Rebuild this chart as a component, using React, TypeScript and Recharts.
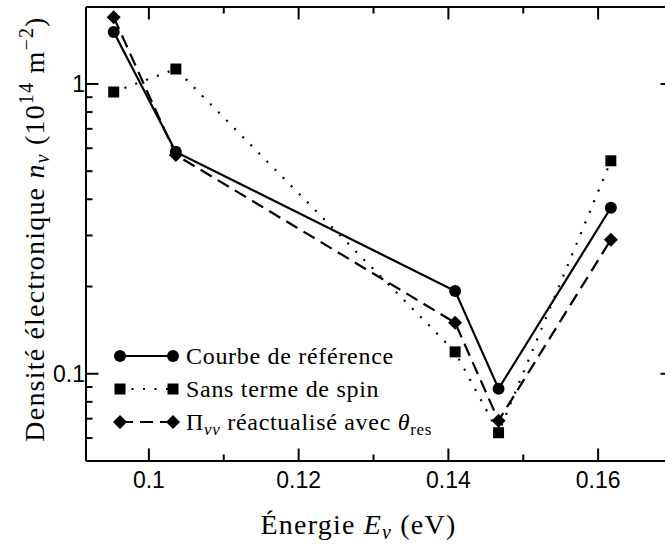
import React from 'react';
import { LineChart, Line, XAxis, YAxis, Legend } from 'recharts';

// photon energy (eV) and electron density (1e14 m^-2)
const energies = [0.0953, 0.1036, 0.1409, 0.1467, 0.1617];
const reference = [1.51, 0.583, 0.193, 0.0888, 0.374];
const sansSpin = [0.938, 1.126, 0.119, 0.0626, 0.543];
const piReact = [1.7, 0.569, 0.15, 0.0689, 0.29];

const xMajor = [0.1, 0.12, 0.14, 0.16];
const xMinor = [0.11, 0.13, 0.15];
const yMajor = [0.1, 1];
const yMinor = [0.06, 0.07, 0.08, 0.09, 0.2, 0.3, 0.4, 0.5, 0.6, 0.7, 0.8, 0.9];

const xDomain: [number, number] = [0.0916, 0.17];
const yDomain: [number, number] = [0.05, 1.843];

const data = energies.map((e, i) => ({ e, ref: reference[i], spin: sansSpin[i], pi: piReact[i] }));

const MAJOR = 12.5;
const MINOR = 6.5;
const DOTTED = '2 9.5';
const DASHED = '13 7';

const sans = { fontFamily: "'Liberation Sans'", fontSize: 23 };
const serif = { fontFamily: "'Liberation Serif'", fontSize: 24, letterSpacing: 0.7 };
const title = { fontFamily: "'Liberation Serif'", fontSize: 28, letterSpacing: 1.2 };
const SUB = 17;
const TSUB = 20;

const isIn = (list: number[], v: number) => list.some((m) => Math.abs(m - v) < 1e-9);

const BottomTick = ({ x, y, payload }: any) => {
  const major = isIn(xMajor, payload.value);
  return (
    <g>
      <line x1={x} x2={x} y1={y} y2={y - (major ? MAJOR : MINOR)} stroke="#000" strokeWidth={2} />
      {major && (
        <text x={x} y={y + 27} textAnchor="middle" style={sans} fill="#000">
          {String(payload.value)}
        </text>
      )}
    </g>
  );
};

const TopTick = ({ x, y, payload }: any) => {
  const major = isIn(xMajor, payload.value);
  return <line x1={x} x2={x} y1={y} y2={y + (major ? MAJOR : MINOR)} stroke="#000" strokeWidth={2} />;
};

const LeftTick = ({ x, y, payload }: any) => {
  const major = isIn(yMajor, payload.value);
  return (
    <g>
      <line x1={x} x2={x + (major ? MAJOR : MINOR)} y1={y} y2={y} stroke="#000" strokeWidth={2} />
      {major && (
        <text x={x - 1} y={y + 8} textAnchor="end" style={sans} fill="#000">
          {String(payload.value)}
        </text>
      )}
    </g>
  );
};

const RightTick = ({ x, y, payload }: any) => {
  const major = isIn(yMajor, payload.value);
  return <line x1={x} x2={x - (major ? MAJOR : MINOR)} y1={y} y2={y} stroke="#000" strokeWidth={2} />;
};

const Circle = ({ cx, cy }: any) => <circle cx={cx} cy={cy} r={6} fill="#000" />;
const Square = ({ cx, cy }: any) => <rect x={cx - 5.5} y={cy - 5.5} width={11} height={11} fill="#000" />;
const Diamond = ({ cx, cy }: any) => (
  <path d={`M${cx},${cy - 7}L${cx + 7},${cy}L${cx},${cy + 7}L${cx - 7},${cy}Z`} fill="#000" />
);

const XTitle = ({ viewBox }: any) => {
  const vb = viewBox || { x: 86, y: 461, width: 587, height: 85 };
  return (
    <text x={vb.x + vb.width / 2 - 21} y={vb.y + 73} textAnchor="middle" style={title} fill="#000">
      Énergie <tspan fontStyle="italic">E</tspan>
      <tspan fontStyle="italic" fontSize={TSUB} dy={5}>ν</tspan>
      <tspan dy={-5}> (eV)</tspan>
    </text>
  );
};

const YTitle = ({ viewBox }: any) => {
  const vb = viewBox || { x: 0, y: 7, width: 86, height: 454 };
  const cy = vb.y + vb.height / 2 - 5;
  return (
    <text transform={`translate(44,${cy}) rotate(-90)`} textAnchor="middle" style={title} fill="#000">
      Densité électronique <tspan fontStyle="italic">n</tspan>
      <tspan fontStyle="italic" fontSize={TSUB} dy={5}>ν</tspan>
      <tspan dy={-5}> (10</tspan>
      <tspan fontSize={TSUB} dy={-11}>14</tspan>
      <tspan dy={11}> m</tspan>
      <tspan fontSize={TSUB} dy={-11}>−2</tspan>
      <tspan dy={11}>)</tspan>
    </text>
  );
};

const legendRows = [
  { label: 'Courbe de référence', dash: undefined, Mark: Circle },
  { label: 'Sans terme de spin', dash: DOTTED, Mark: Square },
  { label: 'Π', dash: DASHED, Mark: Diamond },
];

const LegendBox = () => (
  <svg width={420} height={110}>
    {legendRows.map((row, i) => {
      const y = 16 + i * 33;
      return (
        <g key={row.label}>
          <line x1={20} x2={73} y1={y} y2={y} stroke="#000" strokeWidth={2.2} strokeDasharray={row.dash} />
          <row.Mark cx={20} cy={y} />
          <row.Mark cx={73} cy={y} />
          <text x={86} y={y + 8} style={serif} fill="#000">
            {i < 2 ? (
              row.label
            ) : (
              <>
                Π<tspan fontStyle="italic" fontSize={SUB} dy={5}>νν</tspan>
                <tspan dy={-5}> réactualisé avec </tspan>
                <tspan fontStyle="italic">θ</tspan>
                <tspan fontSize={SUB} dy={5}>res</tspan>
              </>
            )}
          </text>
        </g>
      );
    })}
  </svg>
);

export default function App() {
  return (
    <div style={{ position: 'absolute', left: 0, top: 0, width: 665, height: 546, overflow: 'hidden', background: '#fff' }}>
      <LineChart width={710} height={546} data={data} margin={{ top: 6, right: 34, bottom: 0, left: 0 }}>
        <XAxis
          dataKey="e"
          type="number"
          domain={xDomain}
          allowDataOverflow
          ticks={[...xMajor, ...xMinor]}
          interval={0}
          height={85}
          tickSize={0}
          tickMargin={0}
          tickLine={false}
          tick={<BottomTick />}
          axisLine={{ stroke: '#000', strokeWidth: 2 }}
          label={<XTitle />}
        />
        <XAxis
          xAxisId="top"
          orientation="top"
          dataKey="e"
          type="number"
          domain={xDomain}
          allowDataOverflow
          ticks={[...xMajor, ...xMinor]}
          interval={0}
          height={1}
          tickSize={0}
          tickMargin={0}
          tickLine={false}
          tick={<TopTick />}
          axisLine={{ stroke: '#000', strokeWidth: 2 }}
        />
        <YAxis
          type="number"
          scale="log"
          domain={yDomain}
          allowDataOverflow
          ticks={[...yMinor, ...yMajor]}
          interval={0}
          width={86}
          tickSize={0}
          tickMargin={0}
          tickLine={false}
          tick={<LeftTick />}
          axisLine={{ stroke: '#000', strokeWidth: 2 }}
          label={<YTitle />}
        />
        <YAxis
          yAxisId="right"
          orientation="right"
          type="number"
          scale="log"
          domain={yDomain}
          allowDataOverflow
          ticks={[...yMinor, ...yMajor]}
          interval={0}
          width={3}
          tickSize={0}
          tickMargin={0}
          tickLine={false}
          tick={<RightTick />}
          axisLine={{ stroke: '#000', strokeWidth: 2 }}
        />
        <Legend
          layout="vertical"
          align="center"
          verticalAlign="middle"
          content={<LegendBox />}
          wrapperStyle={{ left: 100, top: 340, width: 420, height: 110 }}
        />
        <Line type="linear" dataKey="spin" stroke="#000" strokeWidth={2.2} strokeDasharray={DOTTED} dot={<Square />} isAnimationActive={false} />
        <Line type="linear" dataKey="pi" stroke="#000" strokeWidth={2.2} strokeDasharray={DASHED} dot={<Diamond />} isAnimationActive={false} />
        <Line type="linear" dataKey="ref" stroke="#000" strokeWidth={2.2} dot={<Circle />} isAnimationActive={false} />
      </LineChart>
    </div>
  );
}
